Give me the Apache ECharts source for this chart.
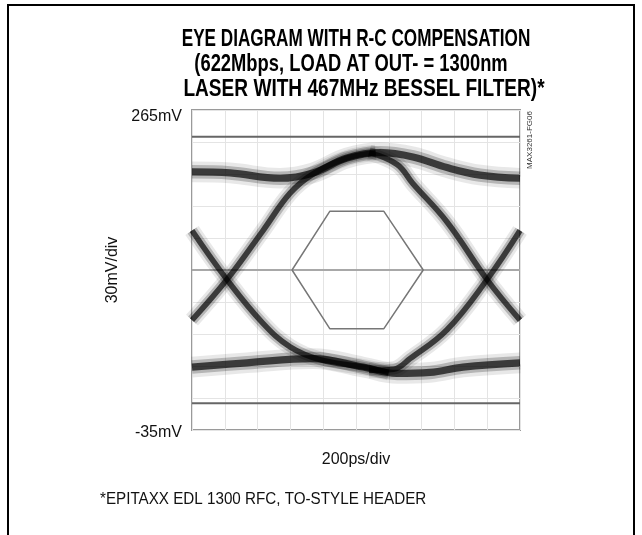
<!DOCTYPE html>
<html>
<head>
<meta charset="utf-8">
<script src="https://cdn.jsdelivr.net/npm/echarts@6/dist/echarts.min.js"></script>
<style>
  html, body { margin: 0; padding: 0; background: #fff; }
  #chart { width: 642px; height: 535px; }
</style>
</head>
<body>
<div id="chart"></div>
<script>
// axis range (ps across, mV up)
const timeRange = [0, 2000];
const voltRange = [-35, 265];
const yTickLabels = ['-35mV', '265mV'];

// eye traces, [ps, mV]
const topRail = [[0, 207], [232, 206], [537, 201], [738, 206], [945, 220], [1146, 225], [1347, 221], [1555, 211], [1756, 204], [2000, 201]];
const bottomRail = [[0, 24], [335, 28], [738, 32], [1043, 24], [1250, 18], [1451, 19], [1652, 24], [2000, 28]];
const leftFall = [[0, 152], [213, 106], [433, 65], [598, 43], [780, 31], [1043, 24], [1200, 19]];
const leftRise = [[0, 68], [213, 106], [433, 152], [598, 187], [738, 205], [945, 220], [1120, 225]];
const rightFall = [[1080, 225], [1250, 214], [1347, 196], [1555, 160], [1799, 106], [2000, 68]];
const rightRise = [[1080, 21], [1230, 22], [1330, 32], [1555, 59], [1799, 106], [2000, 152]];

// eye mask hexagon and scope reference levels
const eyeMask = [[610, 115], [840, 170], [1170, 170], [1410, 115], [1170, 60], [840, 60], [610, 115]];
const refLevels = [240, -10];
const centerLevel = 115;

const chart = echarts.init(document.getElementById('chart'));

function band(data, w) {
  const layers = [
    { width: w * 2.3, color: 'rgba(0,0,0,0.09)' },
    { width: w * 1.5, color: 'rgba(0,0,0,0.22)' },
    { width: w * 0.8, color: 'rgba(0,0,0,0.68)' }
  ];
  return layers.map(function (l) {
    return { type: 'line', data: data, smooth: 0.4, symbol: 'none', silent: true,
      lineStyle: { color: l.color, width: l.width, cap: 'butt' } };
  });
}

function hline(v, color, width) {
  return { type: 'line', data: [[timeRange[0], v], [timeRange[1], v]], symbol: 'none', silent: true,
    lineStyle: { color: color, width: width } };
}

const series = [
  hline(centerLevel, '#a8a8a8', 2),
  hline(refLevels[0], '#666', 2),
  hline(refLevels[1], '#666', 2),
  { type: 'line', data: eyeMask, symbol: 'none', silent: true,
    lineStyle: { color: '#777', width: 1.5 } }
].concat(
  band(topRail, 9),
  band(bottomRail, 9),
  band(leftFall, 7),
  band(leftRise, 7),
  band(rightFall, 7),
  band(rightRise, 7)
);

const titleFont = 'bold 24px "Liberation Sans", Arial, sans-serif';
const labelFont = { fontFamily: 'Liberation Sans', fontSize: 16, color: '#111' };

const option = {
  animation: false,
  backgroundColor: '#fff',
  grid: { left: 192, top: 110, width: 328, height: 320, show: true, borderColor: '#9a9a9a', borderWidth: 2 },
  xAxis: {
    type: 'value', min: timeRange[0], max: timeRange[1], interval: 200,
    name: '200ps/div', nameLocation: 'middle', nameGap: 22, nameTextStyle: labelFont,
    axisLine: { show: false }, axisTick: { show: false }, axisLabel: { show: false },
    splitLine: { lineStyle: { color: '#e4e4e4', width: 1 } }
  },
  yAxis: {
    type: 'value', min: voltRange[0], max: voltRange[1], interval: 30,
    name: '30mV/div', nameLocation: 'middle', nameGap: 45, nameTextStyle: labelFont,
    axisLine: { show: false }, axisTick: { show: false },
    axisLabel: {
      margin: 10, fontFamily: 'Liberation Sans', fontSize: 16, color: '#111',
      formatter: function (v) {
        if (v === voltRange[0]) return '{lo|' + yTickLabels[0] + '}';
        if (v === voltRange[1]) return '{hi|' + yTickLabels[1] + '}';
        return '';
      },
      rich: {
        hi: { fontFamily: 'Liberation Sans', fontSize: 16, color: '#111', padding: [14, 0, 0, 0] },
        lo: { fontFamily: 'Liberation Sans', fontSize: 16, color: '#111', padding: [6, 0, 0, 0] }
      }
    },
    splitLine: { lineStyle: { color: '#e4e4e4', width: 1 } }
  },
  graphic: [
    { type: 'rect', shape: { x: 8, y: 5, width: 626, height: 560 },
      style: { fill: 'none', stroke: '#000', lineWidth: 2 } },
    { type: 'text', x: 356, y: 39, scaleX: 0.715,
      style: { text: 'EYE DIAGRAM WITH R-C COMPENSATION', font: titleFont, fill: '#000', textAlign: 'center', textVerticalAlign: 'middle' } },
    { type: 'text', x: 351, y: 64, scaleX: 0.765,
      style: { text: '(622Mbps, LOAD AT OUT- = 1300nm', font: titleFont, fill: '#000', textAlign: 'center', textVerticalAlign: 'middle' } },
    { type: 'text', x: 364, y: 89, scaleX: 0.795,
      style: { text: 'LASER WITH 467MHz BESSEL FILTER)*', font: titleFont, fill: '#000', textAlign: 'center', textVerticalAlign: 'middle' } },
    { type: 'text', x: 100, y: 500, scaleX: 0.95,
      style: { text: '*EPITAXX EDL 1300 RFC, TO-STYLE HEADER', font: '16px "Liberation Sans", Arial, sans-serif', fill: '#111', textAlign: 'left', textVerticalAlign: 'middle' } },
    { type: 'text', x: 530, y: 140, rotation: Math.PI / 2,
      style: { text: 'MAX3261-FG06', font: '8px "Liberation Sans", Arial, sans-serif', fill: '#333', textAlign: 'center', textVerticalAlign: 'middle' } }
  ],
  series: series
};

chart.setOption(option);
</script>
</body>
</html>
